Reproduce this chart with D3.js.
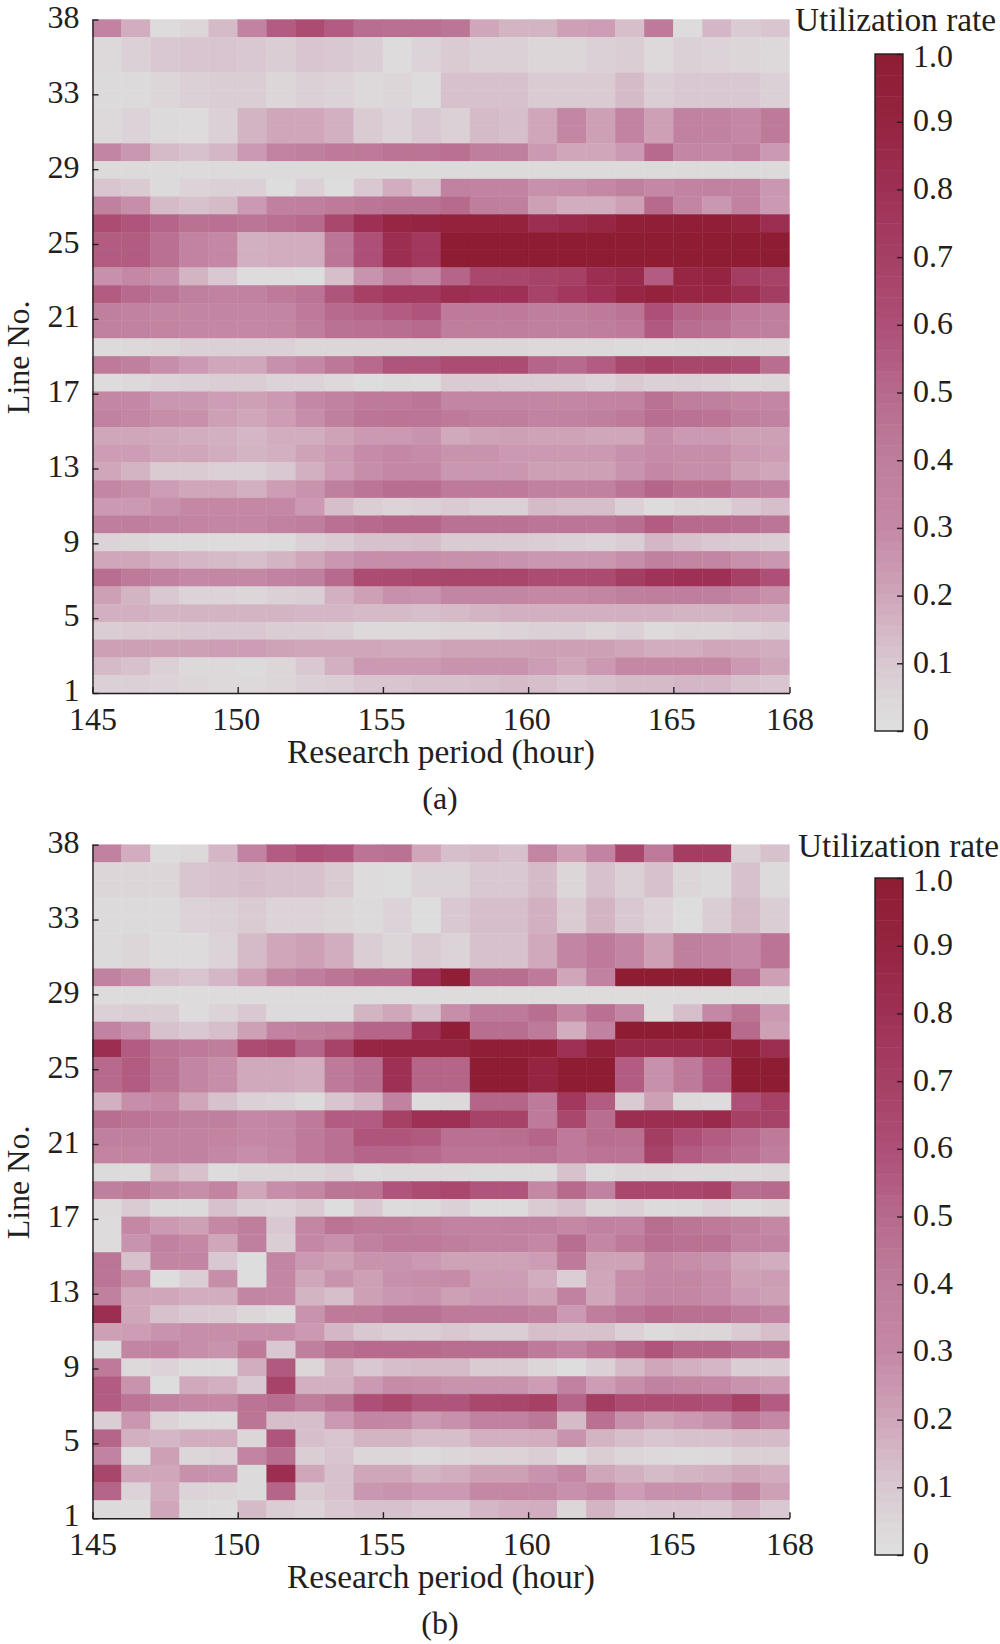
<!DOCTYPE html>
<html>
<head>
<meta charset="utf-8">
<script src="https://cdn.jsdelivr.net/npm/d3@7"></script>
<style>
  html, body { margin: 0; padding: 0; background: #fff; }
  svg { display: block; }
  text { font-family: "Liberation Serif", serif; font-size: 32px; fill: #231f20; }
  text.title { font-size: 33.4px; }
</style>
</head>
<body>
<svg id="chart" width="1000" height="1644"></svg>
<script>
// hours along x, lines along y
const hours = d3.range(145, 169);
const lines = d3.range(38, 0, -1);
const xTicks = [145, 150, 155, 160, 165, 169];
const yTickLabels = ["38", "33", "29", "25", "21", "17", "13", "9", "5", "1"];
const barTicks = [0, 0.1, 0.2, 0.3, 0.4, 0.5, 0.6, 0.7, 0.8, 0.9, 1];
const colorStops = [0, 0.05, 0.1, 0.2, 0.3, 0.4, 0.5, 0.6, 0.7, 0.8, 0.9, 1];
const colorValues = ["#dfdfdf", "#dcd6d9", "#d9c8d1", "#cfa6ba", "#c488a5", "#be7e9c", "#b76a8c", "#ad4f76", "#a64065", "#9e3055", "#952440", "#8e1c33"];

// utilization rate, line 38 first
const utilA = [
  [.35,.18,.02,.05,.14,.35,.55,.62,.55,.48,.47,.47,.44,.2,.16,.16,.22,.23,.13,.42,.02,.15,.09,.11],
  [.04,.07,.1,.11,.11,.1,.08,.11,.1,.08,.02,.06,.09,.07,.07,.05,.05,.07,.08,.04,.07,.06,.05,.04],
  [.04,.07,.1,.11,.11,.1,.08,.11,.1,.08,.02,.06,.09,.07,.07,.05,.05,.07,.08,.04,.07,.06,.05,.04],
  [.03,.03,.05,.07,.08,.08,.05,.07,.06,.04,.05,.02,.12,.12,.12,.09,.09,.09,.14,.08,.1,.1,.1,.07],
  [.03,.03,.05,.07,.08,.08,.05,.07,.06,.04,.05,.02,.12,.12,.12,.09,.09,.09,.14,.08,.1,.1,.1,.07],
  [.04,.06,.03,.02,.07,.16,.2,.2,.17,.09,.06,.1,.07,.14,.13,.2,.31,.22,.35,.22,.36,.36,.3,.42],
  [.04,.06,.03,.02,.07,.16,.2,.2,.17,.09,.06,.1,.07,.14,.13,.2,.31,.22,.35,.22,.36,.36,.3,.42],
  [.33,.25,.14,.12,.15,.24,.35,.38,.42,.42,.45,.45,.47,.4,.38,.24,.2,.2,.24,.5,.32,.3,.36,.24],
  [.03,.03,.03,.03,.03,.03,.03,.03,.03,.03,.03,.03,.03,.03,.03,.03,.03,.03,.03,.03,.03,.03,.03,.03],
  [.11,.09,.03,.06,.07,.07,.01,.07,.01,.1,.18,.12,.36,.35,.35,.27,.28,.3,.37,.3,.35,.36,.35,.25],
  [.37,.28,.14,.12,.14,.24,.37,.38,.42,.44,.46,.46,.5,.4,.38,.22,.18,.18,.22,.5,.33,.25,.36,.24],
  [.62,.58,.52,.46,.47,.44,.47,.5,.65,.8,.88,.9,.92,.92,.92,.82,.85,.88,.96,.97,.98,.98,.92,.82],
  [.55,.55,.47,.35,.3,.17,.18,.18,.44,.6,.82,.75,1,1,1,1,1,1,1,1,1,1,1,1],
  [.55,.55,.47,.35,.3,.17,.18,.18,.44,.6,.82,.75,1,1,1,1,1,1,1,1,1,1,1,1],
  [.27,.3,.27,.16,.1,.02,.02,.01,.13,.26,.4,.32,.52,.65,.66,.68,.7,.82,.85,.55,.88,.9,.72,.68],
  [.55,.5,.44,.38,.36,.36,.42,.45,.58,.7,.75,.75,.82,.8,.8,.68,.75,.8,.88,.92,.88,.88,.82,.72],
  [.38,.36,.33,.33,.33,.32,.33,.42,.5,.52,.55,.58,.42,.42,.42,.4,.4,.42,.45,.6,.52,.5,.42,.4],
  [.37,.36,.34,.32,.3,.3,.32,.4,.46,.47,.48,.5,.4,.4,.4,.38,.38,.4,.42,.56,.48,.46,.4,.38],
  [.03,.04,.05,.07,.07,.07,.07,.05,.05,.05,.05,.05,.05,.05,.05,.04,.04,.04,.03,.02,.03,.03,.04,.04],
  [.42,.38,.28,.24,.2,.2,.27,.3,.43,.5,.58,.58,.62,.62,.62,.52,.5,.55,.65,.7,.66,.66,.62,.48],
  [.02,.04,.06,.07,.08,.08,.06,.06,.04,.01,.03,.02,.09,.09,.08,.08,.08,.06,.09,.07,.07,.06,.04,.05],
  [.32,.3,.25,.25,.23,.22,.24,.3,.36,.42,.42,.44,.33,.33,.33,.32,.32,.34,.35,.46,.4,.38,.34,.31],
  [.36,.32,.28,.27,.22,.2,.23,.28,.38,.44,.45,.44,.42,.4,.4,.35,.36,.38,.42,.48,.46,.45,.4,.36],
  [.2,.2,.19,.18,.17,.15,.18,.18,.21,.24,.24,.26,.19,.21,.22,.21,.21,.2,.2,.28,.24,.24,.22,.22],
  [.23,.23,.2,.2,.18,.16,.17,.21,.24,.29,.3,.29,.26,.26,.24,.24,.24,.24,.27,.29,.28,.28,.24,.23],
  [.2,.16,.09,.09,.07,.07,.1,.17,.23,.28,.3,.3,.25,.25,.25,.22,.22,.22,.26,.3,.28,.28,.22,.2],
  [.32,.28,.23,.2,.2,.17,.23,.26,.38,.44,.48,.48,.42,.42,.42,.37,.37,.37,.45,.52,.47,.47,.4,.36],
  [.24,.24,.27,.3,.3,.3,.3,.24,.13,.08,.06,.07,.09,.07,.07,.14,.13,.13,.07,.02,.05,.05,.1,.13],
  [.4,.4,.36,.34,.32,.32,.36,.4,.47,.5,.52,.52,.46,.46,.46,.44,.44,.44,.48,.55,.5,.5,.48,.44],
  [.06,.05,.03,.03,.02,.02,.03,.07,.09,.12,.12,.13,.09,.09,.09,.08,.07,.06,.08,.15,.12,.1,.09,.08],
  [.2,.2,.17,.15,.14,.13,.16,.2,.25,.28,.28,.28,.27,.27,.26,.25,.25,.25,.28,.37,.33,.33,.27,.25],
  [.48,.42,.36,.3,.32,.3,.35,.38,.5,.62,.63,.65,.66,.66,.66,.62,.62,.63,.72,.78,.8,.8,.7,.6],
  [.22,.16,.1,.06,.06,.05,.07,.08,.17,.22,.27,.26,.33,.33,.33,.3,.3,.33,.38,.4,.4,.38,.32,.27],
  [.17,.17,.16,.16,.16,.16,.16,.15,.15,.14,.14,.13,.14,.16,.17,.17,.17,.17,.17,.17,.16,.16,.17,.17],
  [.08,.09,.09,.1,.1,.1,.08,.08,.07,.04,.04,.04,.05,.05,.06,.07,.07,.05,.07,.03,.05,.05,.06,.08],
  [.22,.22,.22,.22,.23,.23,.21,.2,.2,.2,.19,.19,.21,.21,.21,.22,.22,.22,.2,.18,.18,.2,.19,.18],
  [.14,.12,.07,.04,.04,.03,.05,.1,.17,.24,.24,.24,.26,.26,.26,.23,.2,.24,.3,.3,.3,.3,.24,.2],
  [.07,.07,.06,.05,.04,.04,.05,.07,.08,.11,.11,.12,.12,.13,.14,.13,.11,.12,.14,.14,.15,.15,.12,.11]
];

const utilB = [
  [.36,.18,.02,.04,.15,.35,.55,.6,.58,.45,.46,.2,.13,.14,.12,.33,.22,.35,.66,.42,.72,.72,.07,.12],
  [.05,.05,.05,.11,.12,.13,.12,.12,.09,.02,.01,.06,.06,.1,.1,.14,.05,.12,.07,.12,.05,.03,.12,.03],
  [.05,.05,.05,.11,.12,.13,.12,.12,.09,.02,.01,.06,.06,.1,.1,.14,.05,.12,.07,.12,.05,.03,.12,.03],
  [.03,.03,.03,.06,.07,.09,.06,.06,.05,.03,.06,.01,.1,.13,.13,.17,.09,.16,.1,.06,.01,.08,.14,.08],
  [.03,.03,.03,.06,.07,.09,.06,.06,.05,.03,.06,.01,.1,.13,.13,.17,.09,.16,.1,.06,.01,.08,.14,.08],
  [.03,.05,.02,.02,.06,.14,.2,.22,.18,.08,.05,.09,.06,.12,.12,.19,.33,.42,.33,.22,.38,.36,.3,.45],
  [.03,.05,.02,.02,.06,.14,.2,.22,.18,.08,.05,.09,.06,.12,.12,.19,.33,.42,.33,.22,.38,.36,.3,.45],
  [.36,.28,.13,.11,.15,.22,.33,.4,.44,.5,.5,.8,.97,.48,.48,.42,.2,.36,1,1,1,1,.48,.22],
  [.02,.02,.02,.02,.02,.02,.02,.02,.02,.02,.02,.02,.02,.02,.02,.02,.02,.02,.02,.02,.02,.02,.02,.02],
  [.07,.08,.08,.02,.06,.1,.03,.03,.03,.16,.2,.13,.28,.42,.42,.48,.32,.47,.33,.02,.13,.3,.45,.24],
  [.35,.27,.12,.1,.13,.22,.35,.4,.42,.52,.52,.8,.97,.48,.48,.42,.18,.36,1,1,1,1,.5,.22],
  [.82,.55,.45,.42,.4,.62,.65,.52,.68,.88,.9,.9,.9,.97,.97,.98,.8,.95,.86,.86,.86,.88,.95,.82],
  [.5,.55,.45,.33,.28,.19,.19,.18,.42,.48,.8,.52,.52,1,1,.9,1,1,.55,.27,.42,.55,1,1],
  [.5,.55,.45,.33,.28,.19,.19,.18,.42,.48,.8,.52,.52,1,1,.9,1,1,.55,.27,.42,.55,1,1],
  [.17,.28,.3,.2,.12,.07,.06,.03,.11,.15,.36,.02,.04,.52,.52,.42,.75,.55,.09,.22,.04,.02,.6,.7],
  [.48,.45,.42,.38,.38,.3,.33,.42,.55,.55,.7,.8,.8,.68,.68,.42,.65,.48,.82,.82,.82,.85,.7,.68],
  [.38,.38,.36,.36,.34,.3,.32,.42,.47,.58,.58,.56,.47,.47,.48,.52,.42,.48,.47,.72,.6,.55,.5,.42],
  [.34,.34,.36,.36,.3,.28,.3,.42,.47,.52,.52,.5,.45,.45,.45,.46,.42,.45,.45,.68,.55,.52,.47,.4],
  [.03,.02,.16,.12,.02,.05,.05,.05,.07,.02,.04,.04,.04,.03,.03,.03,.12,.02,.05,.05,.04,.04,.04,.05],
  [.38,.42,.32,.28,.34,.2,.28,.32,.44,.45,.58,.62,.65,.58,.58,.3,.5,.36,.65,.65,.65,.68,.48,.5],
  [.04,.09,.03,.03,.12,.07,.06,.09,.01,.1,.02,.03,.07,.02,.02,.09,.12,.05,.07,.03,.03,.06,.02,.05],
  [.02,.3,.24,.22,.3,.4,.1,.32,.45,.42,.42,.4,.35,.35,.36,.36,.3,.36,.35,.48,.44,.42,.38,.3],
  [.02,.26,.36,.3,.2,.38,.08,.3,.27,.37,.42,.42,.4,.36,.36,.3,.48,.32,.42,.48,.46,.46,.36,.35],
  [.44,.12,.33,.33,.1,.01,.33,.24,.22,.26,.26,.24,.21,.21,.21,.23,.42,.21,.21,.3,.28,.26,.2,.18],
  [.44,.28,.01,.08,.28,.01,.31,.2,.26,.22,.27,.28,.29,.23,.23,.18,.08,.2,.28,.32,.31,.29,.22,.23],
  [.37,.2,.2,.18,.18,.33,.3,.16,.13,.22,.25,.26,.22,.24,.24,.21,.36,.2,.28,.33,.31,.29,.24,.22],
  [.82,.2,.12,.1,.09,.05,.02,.26,.42,.42,.46,.46,.42,.42,.42,.38,.24,.4,.45,.5,.47,.47,.42,.36],
  [.22,.23,.26,.28,.28,.28,.28,.24,.15,.1,.08,.08,.1,.08,.08,.13,.12,.12,.07,.03,.05,.05,.09,.13],
  [.03,.33,.35,.28,.26,.42,.1,.38,.47,.5,.5,.5,.48,.48,.48,.42,.35,.45,.52,.58,.52,.52,.46,.44],
  [.42,.04,.06,.02,.02,.18,.56,.05,.16,.1,.13,.14,.14,.09,.09,.05,.01,.07,.14,.2,.17,.15,.08,.08],
  [.55,.26,.01,.19,.17,.1,.68,.17,.17,.24,.29,.28,.26,.26,.26,.23,.36,.23,.28,.36,.33,.3,.26,.24],
  [.55,.45,.36,.32,.3,.45,.48,.4,.46,.6,.65,.58,.58,.65,.66,.7,.52,.72,.62,.62,.62,.6,.7,.55],
  [.08,.25,.06,.02,.02,.44,.13,.13,.24,.33,.32,.24,.27,.36,.36,.43,.14,.47,.27,.21,.24,.27,.42,.3],
  [.52,.17,.15,.18,.18,.05,.58,.13,.11,.16,.16,.13,.13,.17,.17,.18,.26,.16,.13,.11,.12,.12,.14,.14],
  [.35,.02,.22,.05,.06,.34,.48,.08,.11,.05,.05,.03,.05,.06,.06,.08,.02,.08,.05,.04,.03,.04,.07,.07],
  [.66,.2,.2,.27,.26,.03,.82,.2,.12,.2,.2,.16,.18,.22,.22,.26,.3,.2,.17,.14,.16,.17,.2,.18],
  [.52,.06,.18,.06,.05,.03,.52,.09,.12,.25,.26,.24,.24,.3,.3,.3,.27,.3,.23,.27,.27,.25,.33,.22],
  [.03,.02,.2,.03,.02,.14,.08,.06,.1,.12,.12,.1,.1,.15,.17,.18,.05,.16,.1,.11,.11,.1,.15,.1]
];

const svg = d3.select("#chart");
const ink = "#231f20";

const color = d3.scaleLinear().domain(colorStops).range(colorValues).clamp(true);

const x = d3.scaleLinear().domain([145, 169]).range([92.5, 789.5]);
const plotH = 673.5;
const barH = 677;

function drawPanel(top, barTop, legendX, legendY, values, caption) {
  const g = svg.append("g").attr("transform", `translate(0,${top})`);
  const y = d3.scaleBand().domain(lines).range([0, plotH]);
  const yTick = d3.scalePoint().domain(yTickLabels).range([0, plotH]);

  values.forEach((row, i) => {
    g.selectAll(null).data(row).join("rect")
      .attr("x", (d, j) => x(hours[j]))
      .attr("y", y(lines[i]))
      .attr("width", (d, j) => x(hours[j] + 1) - x(hours[j]))
      .attr("height", y.bandwidth())
      .attr("fill", d => color(d))
      .attr("stroke", d => color(d))
      .attr("stroke-width", 0.4);
  });

  const xAxis = g.append("g").attr("transform", `translate(0,${plotH})`)
    .call(d3.axisBottom(x).tickValues(xTicks).tickSizeInner(-6).tickSizeOuter(0)
      .tickFormat(d => Math.min(d, 168)));
  xAxis.selectAll("text").attr("y", 0).attr("dy", 37).attr("fill", ink)
    .attr("dx", d => (d === 145 || d === 169) ? 0 : -2);

  const yAxis = g.append("g").attr("transform", `translate(${x.range()[0]},0)`)
    .call(d3.axisLeft(yTick).tickSizeInner(-6).tickSizeOuter(0));
  yAxis.selectAll("text").attr("x", -13).attr("fill", ink)
    .attr("dy", d => (d === "1" || d === "5") ? 7 : 8);

  [xAxis, yAxis].forEach(a => {
    a.attr("font-family", null).attr("font-size", null);
    a.selectAll("path,line").attr("stroke", ink).attr("stroke-width", 1.4);
  });

  g.append("text").attr("class", "title").attr("x", 441).attr("y", plotH + 70)
    .attr("text-anchor", "middle").text("Research period (hour)");
  g.append("text").attr("x", 440).attr("y", plotH + 116).attr("text-anchor", "middle")
    .text(caption);
  g.append("text").attr("transform", `translate(29,${plotH * 0.5 + 1}) rotate(-90)`)
    .attr("text-anchor", "middle").text("Line No.");

  // colorbar
  const bar = svg.append("g").attr("transform", `translate(875,${barTop})`);
  const barScale = d3.scaleLinear().domain([0, 1]).range([barH, 0]);
  const levels = d3.range(64);
  bar.selectAll(null).data(levels).join("rect")
    .attr("x", 0).attr("width", 28)
    .attr("y", d => barScale((d + 1) / 64))
    .attr("height", barH / 64 + 0.5)
    .attr("fill", d => color((d + 0.5) / 64));
  bar.append("rect").attr("width", 28).attr("height", barH)
    .attr("fill", "none").attr("stroke", ink).attr("stroke-width", 1.4);
  const barAxis = bar.append("g").attr("transform", "translate(28,0)")
    .call(d3.axisRight(barScale).tickValues(barTicks).tickSizeInner(-6).tickSizeOuter(0)
      .tickFormat(d => d === 0 ? "0" : d3.format(".1f")(d)));
  barAxis.attr("font-family", null).attr("font-size", null);
  barAxis.select(".domain").remove();
  barAxis.selectAll("line").attr("stroke", ink).attr("stroke-width", 1.4);
  barAxis.selectAll("text").attr("x", 10).attr("fill", ink)
    .attr("dy", d => d === 1 ? 12 : d === 0 ? 8 : 9);

  svg.append("text").attr("class", "title").attr("x", legendX).attr("y", legendY)
    .text("Utilization rate");
}

drawPanel(19.5, 54, 795, 30.5, utilA, "(a)");
drawPanel(844.7, 878, 798, 857, utilB, "(b)");
</script>
</body>
</html>
